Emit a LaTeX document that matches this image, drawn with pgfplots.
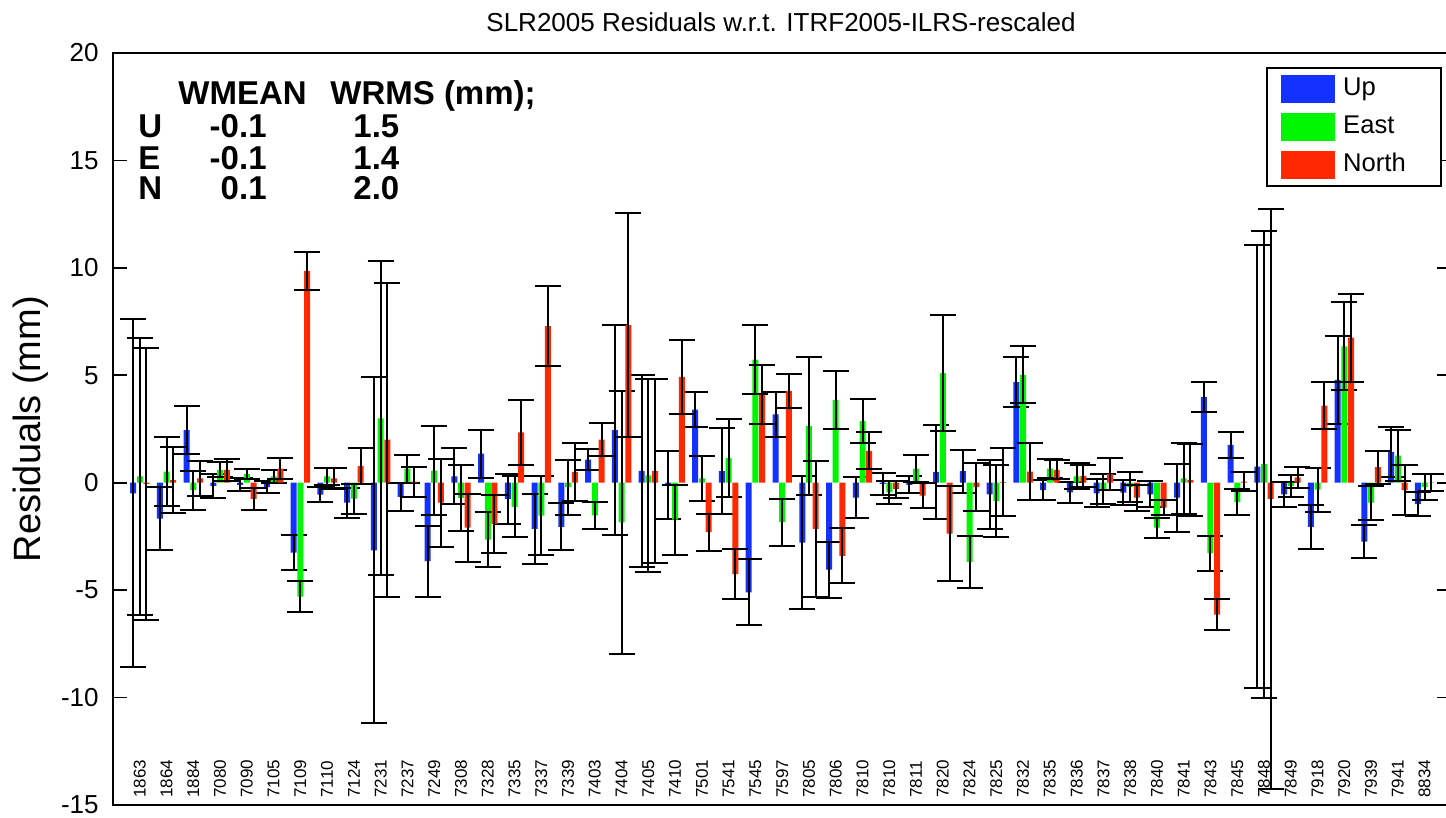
\documentclass[border=0pt]{standalone}
\usepackage{fontspec}
\setmainfont{Liberation Sans}
\usepackage{pgfplots}
\usepackage{pgfplotstable}
\pgfplotsset{compat=1.18}

\definecolor{upblue}{RGB}{20,50,255}
\definecolor{eastgreen}{RGB}{0,245,0}
\definecolor{northred}{RGB}{255,40,0}

% station index, value and error for Up, East, North (mm)
\pgfplotstableread{
idx U Ue E Ee N Ne
0 -0.50 8.10 0.30 6.45 -0.05 6.34
1 -1.67 1.47 0.52 1.60 0.12 1.53
2 2.45 1.12 -0.35 0.90 0.20 0.80
3 -0.15 0.55 0.60 0.35 0.60 0.50
4 -0.10 0.30 0.40 0.25 -0.75 0.50
5 -0.20 0.30 0.30 0.30 0.65 0.48
6 -3.25 0.81 -5.30 0.71 9.86 0.88
7 -0.55 0.35 0.30 0.40 0.20 0.50
8 -0.93 0.70 -0.74 0.70 0.77 0.85
9 -3.15 8.05 3.00 7.30 2.00 7.30
10 -0.66 0.65 0.65 0.65 0.05 0.70
11 -3.65 1.65 0.56 2.07 -0.93 2.05
12 0.30 1.30 -0.71 1.53 -2.09 1.58
13 1.35 1.12 -2.65 1.28 -1.92 1.33
14 -0.76 1.17 -1.12 1.43 2.34 1.52
15 -2.15 1.64 -1.53 1.84 7.29 1.88
16 -2.05 1.10 -0.20 1.28 0.50 1.37
17 1.08 0.50 -1.52 0.62 2.00 0.77
18 2.45 4.90 -1.85 6.13 7.34 5.20
19 0.55 4.45 0.34 4.50 0.54 4.30
20 -0.10 1.58 -1.72 1.63 4.92 1.74
21 3.40 0.80 0.20 1.05 -2.30 0.86
22 0.54 2.00 1.14 1.82 -4.25 1.16
23 -5.10 1.53 5.73 1.62 4.10 1.38
24 3.18 1.04 -1.84 1.10 4.27 0.77
25 -2.79 3.10 2.63 3.20 -2.15 3.15
26 -4.05 1.30 3.86 1.35 -3.40 1.28
27 -0.70 0.96 2.87 1.02 1.48 0.86
28 -0.05 0.50 -0.45 0.55 -0.30 0.40
29 -0.10 0.40 0.65 0.62 -0.60 0.60
30 0.50 2.20 5.10 2.70 -2.37 2.20
31 0.54 1.00 -3.68 1.21 -0.20 1.12
32 -0.54 1.60 -0.86 1.69 0.03 1.57
33 4.68 1.17 5.02 1.33 0.52 1.32
34 -0.34 0.48 0.65 0.45 0.60 0.45
35 -0.45 0.50 0.30 0.60 0.32 0.50
36 -0.50 0.65 -0.30 0.70 0.40 0.76
37 -0.46 0.60 -0.20 0.70 -0.70 0.60
38 -0.54 0.60 -2.09 0.47 -1.16 0.35
39 -0.70 1.58 0.20 1.67 0.12 1.66
40 4.00 0.70 -3.28 0.81 -6.14 0.72
41 1.76 0.61 -0.90 0.60 0.05 0.45
42 0.75 10.30 0.86 10.87 -0.75 13.50
43 -0.54 0.57 -0.15 0.50 0.25 0.50
44 -2.06 1.03 -0.32 1.02 3.59 1.10
45 4.79 2.04 6.35 2.05 6.75 2.04
46 -2.74 0.78 -0.93 0.80 0.72 0.76
47 1.43 1.16 1.26 1.20 -0.35 1.17
48 -1.00 0.55 -0.20 0.60 0.02 0.40
}\resid

\pgfplotsset{
  boxlegend/.style={legend image code/.code={\fill[##1] (0pt,-7pt) rectangle (27pt,7pt);}},
  errstyle/.style={error bars/.cd, y dir=both, y explicit,
    error bar style={black, line width=1pt},
    error mark options={rotate=90, black, mark size=6.5pt, line width=1pt}},
}

\begin{document}
\begin{tikzpicture}
\begin{axis}[
  name=ax,
  scale only axis, width=669.2pt, height=376pt,
  xmin=-1, xmax=49, ymin=-15, ymax=20,
  ybar=0.35pt, bar width=3pt,
  clip mode=individual,
  axis line style={line width=1pt},
  xtick={0,...,48},
  xticklabels={1863,1864,1884,7080,7090,7105,7109,7110,7124,7231,7237,7249,7308,7328,7335,7337,7339,7403,7404,7405,7410,7501,7541,7545,7597,7805,7806,7810,7810,7811,7820,7824,7825,7832,7835,7836,7837,7838,7840,7841,7843,7845,7848,7849,7918,7920,7939,7941,8834},
  x tick style={draw=none},
  xticklabel style={rotate=90, anchor=west, inner sep=0pt, font=\fontsize{8.5}{8.5}\selectfont},
  xticklabel shift=-3.5pt,
  ytick={-15,-10,...,20},
  ytick pos=both, yticklabel pos=left,
  tick align=inside, major tick length=7pt,
  y tick style={black, line width=0.8pt},
  yticklabel style={font=\fontsize{13}{13}\selectfont, /pgf/number format/assume math mode=true, inner sep=0pt, xshift=-7pt},
  legend style={at={(rel axis cs:0.993,0.9814)}, anchor=north east, draw=black, line width=0.8pt,
    inner xsep=7pt, inner ysep=3.5pt, row sep=5pt,
    nodes={inner xsep=4pt, inner ysep=0pt, text height=9pt, text depth=2.5pt},
    font=\fontsize{12.8}{12.8}\selectfont},
  legend cell align=left,
]
\addplot[fill=upblue, draw=none, boxlegend, errstyle] table[x=idx, y=U, y error=Ue] {\resid};
\addlegendentry{\makebox[38pt][l]{Up}}
\addplot[fill=eastgreen, draw=none, boxlegend, errstyle] table[x=idx, y=E, y error=Ee] {\resid};
\addlegendentry{\makebox[38pt][l]{East}}
\addplot[fill=northred, draw=none, boxlegend, errstyle] table[x=idx, y=N, y error=Ne] {\resid};
\addlegendentry{\makebox[38pt][l]{North}}

\node[anchor=base, font=\fontsize{13}{13}\selectfont, yshift=10.5pt] at (rel axis cs:0.4991,1) {SLR2005 Residuals w.r.t. ITRF2005-ILRS-rescaled};
\begin{scope}[every node/.style={font=\fontsize{16.5}{16.5}\bfseries\selectfont, inner sep=0pt}]
\node[anchor=base west] at (rel axis cs:0.04857,0.9310) {WMEAN};
\node[anchor=base west] at (rel axis cs:0.16213,0.9310) {WRMS (mm);};
\node[anchor=base west] at (rel axis cs:0.01868,0.8873) {U};
\node[anchor=base west] at (rel axis cs:0.01868,0.8448) {E};
\node[anchor=base west] at (rel axis cs:0.01868,0.8050) {N};
\node[anchor=base east] at (rel axis cs:0.11506,0.8873) {-0.1};
\node[anchor=base east] at (rel axis cs:0.11506,0.8448) {-0.1};
\node[anchor=base east] at (rel axis cs:0.11506,0.8050) {0.1};
\node[anchor=base west] at (rel axis cs:0.17932,0.8873) {1.5};
\node[anchor=base west] at (rel axis cs:0.17932,0.8448) {1.4};
\node[anchor=base west] at (rel axis cs:0.17932,0.8050) {2.0};
\end{scope}
\end{axis}
\node[rotate=90, anchor=base, font=\fontsize{19}{19}\selectfont] at ([xshift=-36pt]ax.west) {Residuals (mm)};
\pgfresetboundingbox
\path[use as bounding box] ([shift={(-56.5pt,-6.5pt)}]ax.south west) rectangle ([shift={(-2.7pt,26.5pt)}]ax.north east);
\end{tikzpicture}
\end{document}
